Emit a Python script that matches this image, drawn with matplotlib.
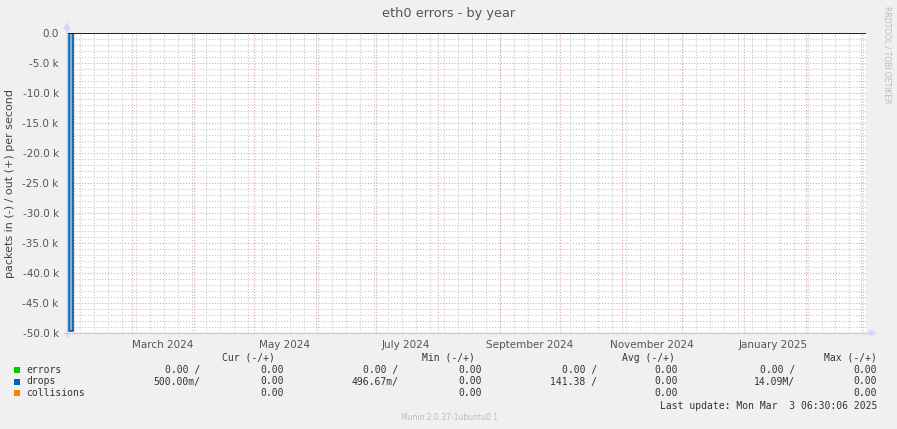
import matplotlib
matplotlib.use('Agg')
import matplotlib.pyplot as plt
import matplotlib.dates as mdates
from matplotlib.patches import Rectangle, Polygon
import datetime as dt

# ---- data ----
title = "eth0 errors - by year"
ylabel = "packets in (-) / out (+) per second"
end_time = dt.datetime(2025, 3, 3, 6, 30, 6)
span_days = 400
drops_times = ["2024-01-29 10:00", "2024-01-31 10:00"]
drops_values = [-49700, -49700]
y_ticks = [0, -5000, -10000, -15000, -20000, -25000, -30000, -35000, -40000, -45000, -50000]
y_ticklabels = ["0.0", "-5.0 k", "-10.0 k", "-15.0 k", "-20.0 k", "-25.0 k",
                "-30.0 k", "-35.0 k", "-40.0 k", "-45.0 k", "-50.0 k"]
x_label_dates = ["2024-03-16", "2024-05-16", "2024-07-16", "2024-09-16", "2024-11-16", "2025-01-16"]
x_labels = ["March 2024", "May 2024", "July 2024", "September 2024", "November 2024", "January 2025"]

legend_names = ["errors", "drops", "collisions"]
legend_colors = ["#00CC00", "#0066B3", "#FF8000"]
col_headers = ["Cur (-/+)", "Min (-/+)", "Avg (-/+)", "Max (-/+)"]
errors_vals = ["0.00 /", "0.00", "0.00 /", "0.00", "0.00 /", "0.00", "0.00 /", "0.00"]
drops_vals = ["500.00m/", "0.00", "496.67m/", "0.00", "141.38 /", "0.00", "14.09M/", "0.00"]
collisions_vals = ["", "0.00", "", "0.00", "", "0.00", "", "0.00"]
last_update = "Last update: Mon Mar  3 06:30:06 2025"
footer = "Munin 2.0.37-1ubuntu0.1"
side_text = "RRDTOOL / TOBI OETIKER"

# ---- figure ----
W, H = 897, 429
BG = "#F0F0F0"
fig = plt.figure(figsize=(W / 100, H / 100), dpi=100, facecolor=BG)

def fx(x):
    return x / W

def fy(y):
    return 1 - y / H

L, R, T, B = 67, 866, 33, 333
ax = fig.add_axes([fx(L), fy(B), (R - L) / W, (B - T) / H])
ax.set_facecolor("white")

start_time = end_time - dt.timedelta(days=span_days)
ax.set_xlim(start_time, end_time)
ax.set_ylim(-50000, 0)

# grid
gray = "#c8c8c8"
red = "#d8a8a8"
dots = (0, (1, 1.6))
for v in range(-50000, 1, 1000):
    if v % 5000 != 0:
        ax.axhline(v, color=gray, lw=0.8, ls=dots, zorder=1)
for v in y_ticks:
    ax.axhline(v, color=red, lw=0.8, ls=dots, zorder=1)

weeks = mdates.drange(dt.datetime(2024, 1, 28), end_time, dt.timedelta(days=7))
for w in weeks:
    ax.axvline(w, color=gray, lw=0.8, ls=dots, zorder=1)
month_starts = []
d = dt.datetime(2024, 2, 1)
while d < end_time:
    month_starts.append(d)
    d = dt.datetime(d.year + (d.month // 12), d.month % 12 + 1, 1)
for m in month_starts:
    ax.axvline(m, color=red, lw=0.8, ls=dots, zorder=1)

# drops spike
t = [mdates.date2num(dt.datetime.fromisoformat(s)) for s in drops_times]
poly = [(t[0], 0), (t[0], drops_values[0]), (t[1], drops_values[1]), (t[1], 0)]
ax.add_patch(Polygon(poly, closed=True, facecolor="#7fb3d9", edgecolor="none", zorder=3))
ax.plot([t[0], t[0], t[1], t[1]], [0, drops_values[0], drops_values[1], 0],
        color="#0066B3", lw=1.3, zorder=4)

# zero line
ax.axhline(0, color="black", lw=1.2, zorder=5)

# ticks
ax.set_yticks(y_ticks)
ax.set_yticklabels(y_ticklabels)
ax.set_xticks([mdates.date2num(dt.datetime.fromisoformat(s)) for s in x_label_dates])
ax.set_xticklabels(x_labels)
ax.tick_params(axis="both", length=0, labelsize=7.5, colors="#555555", pad=6)
ax.tick_params(axis="x", pad=5)
for s in ax.spines.values():
    s.set_visible(False)

# axis lines with arrows
axis_col = "#c8c8f0"
fig.add_artist(plt.Line2D([fx(L - 3), fx(R + 4)], [fy(B), fy(B)], color=axis_col, lw=1))
fig.add_artist(plt.Line2D([fx(L), fx(L)], [fy(B + 3), fy(T - 4)], color=axis_col, lw=1))
fig.add_artist(Polygon([(fx(R + 4), fy(B - 3)), (fx(R + 4), fy(B + 3)), (fx(R + 10), fy(B))],
                       closed=True, transform=fig.transFigure, color="#d8d8f8"))
fig.add_artist(Polygon([(fx(L - 3), fy(T - 4)), (fx(L + 3), fy(T - 4)), (fx(L), fy(T - 10))],
                       closed=True, transform=fig.transFigure, color="#d8d8f8"))

# texts
fig.text(fx(449), fy(13), title, ha="center", va="center", fontsize=9.3, color="#555555")
fig.text(fx(10), fy(183), ylabel, ha="center", va="center", rotation=90, fontsize=8, color="#444444")
fig.text(fx(887), fy(6), side_text, ha="center", va="top", rotation=270, fontsize=5.5, color="#bbbbbb")
fig.text(fx(449), fy(418), footer, ha="center", va="center", fontsize=5.5, color="#bbbbbb")

mono = dict(family="DejaVu Sans Mono", fontsize=7, color="#333333")
header_right = [275, 475, 675, 877]
for hx, h in zip(header_right, col_headers):
    fig.text(fx(hx), fy(358), h, ha="right", va="center", **mono)

col_right = [200, 284, 398, 482, 597, 678, 795, 877]
rows_y = [370, 381.5, 393]
rows = [errors_vals, drops_vals, collisions_vals]
for name, color, yy, vals in zip(legend_names, legend_colors, rows_y, rows):
    fig.add_artist(Rectangle((fx(14), fy(yy + 3)), 6 / W, 6 / H, transform=fig.transFigure,
                             facecolor=color, edgecolor="none"))
    fig.text(fx(26), fy(yy), name, ha="left", va="center", **mono)
    for cx, v in zip(col_right, vals):
        if v:
            fig.text(fx(cx), fy(yy), v, ha="right", va="center", **mono)

fig.text(fx(877), fy(406), last_update, ha="right", va="center", **mono)

fig.savefig("out.png", dpi=100, facecolor=BG)
